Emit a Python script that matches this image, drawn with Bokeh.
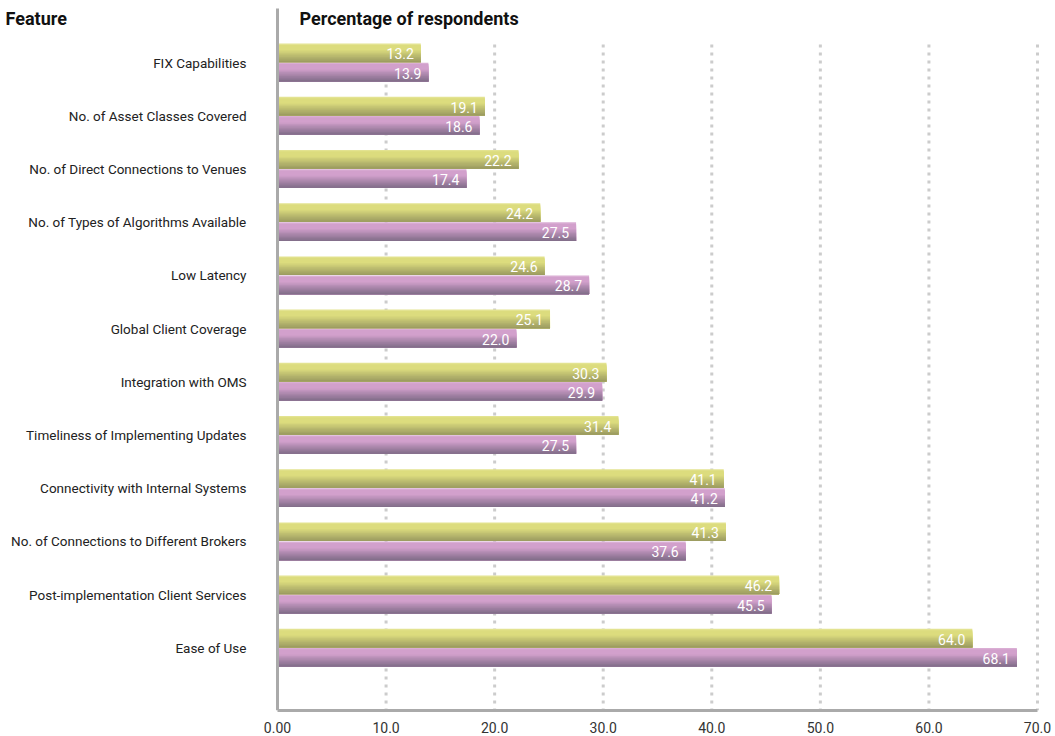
from bokeh.plotting import figure
from bokeh.models import Range1d, FixedTicker, ColumnDataSource
from bokeh.core.properties import value
from bokeh.embed import file_html
from bokeh.resources import INLINE

features = [
    "FIX Capabilities",
    "No. of Asset Classes Covered",
    "No. of Direct Connections to Venues",
    "No. of Types of Algorithms Available",
    "Low Latency",
    "Global Client Coverage",
    "Integration with OMS",
    "Timeliness of Implementing Updates",
    "Connectivity with Internal Systems",
    "No. of Connections to Different Brokers",
    "Post-implementation Client Services",
    "Ease of Use",
]
series_a = [13.2, 19.1, 22.2, 24.2, 24.6, 25.1, 30.3, 31.4, 41.1, 41.3, 46.2, 64.0]
series_b = [13.9, 18.6, 17.4, 27.5, 28.7, 22.0, 29.9, 27.5, 41.2, 37.6, 45.5, 68.1]
x_ticks = [0, 10, 20, 30, 40, 50, 60, 70]
x_tick_labels = ["0.00", "10.0", "20.0", "30.0", "40.0", "50.0", "60.0", "70.0"]
x_title = "Percentage of respondents"
y_title = "Feature"

FONT = "Roboto"
W, H = 1055, 736
X0PX, X70PX = 277, 1037          # pixel positions of 0 and 70
PXU = (X70PX - X0PX) / 70.0
ROW0, ROWSTEP = 62.0, 53.2       # pixel centre of first row, row spacing
FRAME_B = 710                    # frame bottom pixel

xs, xe = -X0PX / PXU, (W - X0PX) / PXU
ytop, ybot = -ROW0 / ROWSTEP, (FRAME_B - ROW0) / ROWSTEP

p = figure(width=W, height=H, output_backend="svg", toolbar_location=None,
           x_range=Range1d(xs, xe), y_range=Range1d(ybot, ytop),
           y_axis_location=None,
           min_border_left=0, min_border_right=0, min_border_top=0, min_border_bottom=H - FRAME_B)
p.outline_line_color = None
p.xgrid.visible = False
p.ygrid.visible = False

ys = list(range(len(features)))

# dotted vertical grid lines
grid_x = [t for t in x_ticks if t > 0]
p.segment(x0=grid_x, x1=grid_x, y0=[(44 - ROW0) / ROWSTEP] * len(grid_x), y1=[ybot] * len(grid_x),
          line_color="#cccccc", line_width=3, line_dash="3 5")

def hexc(c):
    return "#%02x%02x%02x" % tuple(int(round(v)) for v in c)

def lerp(a, b, t):
    return tuple(a[i] + (b[i] - a[i]) * t for i in range(3))

def draw_bars(values, center_off, light, dark, top):
    h = 0.35
    n = 14
    sh = h / n
    bottom = [y + center_off + h / 2 for y in ys]
    for k in range(n):
        t = (k + 0.5) / n
        if t < 0.08:
            col = lerp(top, light, t / 0.08)
        elif t < 0.35:
            col = light
        else:
            col = lerp(light, dark, ((t - 0.35) / 0.65) ** 0.9)
        tops = [y + center_off - h / 2 + k * sh for y in ys]
        p.quad(left=0, right=values, top=tops, bottom=bottom, fill_color=hexc(col), line_color=None)

draw_bars(series_a, -0.18, (220, 220, 126), (154, 154, 96), (232, 232, 160))
draw_bars(series_b, 0.18, (210, 160, 204), (128, 108, 136), (224, 186, 218))

src_a = ColumnDataSource(dict(x=series_a, y=[y - 0.18 for y in ys], t=["%.1f" % v for v in series_a]))
src_b = ColumnDataSource(dict(x=series_b, y=[y + 0.18 for y in ys], t=["%.1f" % v for v in series_b]))
for src in (src_a, src_b):
    p.text(x="x", y="y", text="t", source=src, text_color="white", text_align="right",
           text_baseline="middle", x_offset=-7, y_offset=1, text_font_size="14px",
           text_font=value(FONT))

# category labels (left axis)
src_c = ColumnDataSource(dict(x=[0] * len(features), y=ys, t=features))
p.text(x="x", y="y", text="t", source=src_c, text_color="#222222", text_align="right",
       text_baseline="middle", x_offset=-31, text_font_size="13.5px", text_font=value(FONT))

# vertical axis line
p.segment(x0=[0], x1=[0], y0=[(8 - ROW0) / ROWSTEP], y1=[ybot], line_color="#aaaaaa", line_width=3)

# titles
p.text(x=[xs], y=[ytop], text=[y_title], x_offset=5, y_offset=18, text_align="left",
       text_baseline="middle", text_font=value(FONT), text_font_style="bold",
       text_font_size="18px", text_color="#111111")
p.text(x=[0], y=[ytop], text=[x_title], x_offset=22, y_offset=18, text_align="left",
       text_baseline="middle", text_font=value(FONT), text_font_style="bold",
       text_font_size="18px", text_color="#111111")

# bottom axis
p.xaxis.ticker = FixedTicker(ticks=x_ticks)
p.xaxis.bounds = (0, 70)
p.xaxis.major_label_overrides = {t: l for t, l in zip(x_ticks, x_tick_labels)}
p.xaxis.axis_line_color = "#aaaaaa"
p.xaxis.axis_line_width = 3
p.xaxis.major_tick_line_color = None
p.xaxis.minor_tick_line_color = None
p.xaxis.major_label_text_font = FONT
p.xaxis.major_label_text_font_size = "14px"
p.xaxis.major_label_text_color = "#333333"
p.xaxis.major_label_standoff = 5

open("out.html", "w").write(file_html(p, INLINE))
